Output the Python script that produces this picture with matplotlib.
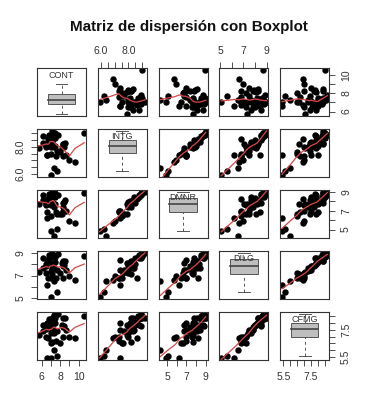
import numpy as np
import matplotlib.pyplot as plt

plt.rcParams['font.family'] = ['Liberation Sans', 'DejaVu Sans']

# USJudgeRatings (first five columns), 43 judges
names = ["CONT", "INTG", "DMNR", "DILG", "CFMG"]
cont = [5.7, 6.8, 7.2, 6.8, 7.3, 6.2, 10.6, 7.0, 7.3, 8.2, 7.0, 6.5, 6.7, 7.0, 6.5,
        7.3, 8.0, 7.7, 8.3, 9.6, 7.1, 7.6, 6.6, 6.2, 7.5, 7.8, 7.1, 7.5, 7.5, 7.1,
        6.6, 8.4, 6.9, 7.3, 7.7, 8.5, 6.9, 6.5, 8.3, 8.3, 9.0, 7.1, 8.6]
intg = [7.9, 8.9, 8.1, 8.8, 6.4, 8.8, 9.0, 5.9, 8.9, 7.9, 8.0, 8.0, 8.6, 7.5, 8.1,
        8.0, 7.6, 7.7, 8.2, 6.9, 8.2, 7.3, 7.4, 8.3, 8.7, 8.9, 8.5, 9.0, 8.1, 9.2,
        7.4, 8.0, 8.5, 8.9, 6.2, 8.3, 8.3, 8.2, 7.3, 8.2, 7.0, 8.4, 7.4]
dmnr = [7.7, 8.8, 7.8, 8.5, 4.3, 8.7, 8.9, 4.9, 8.9, 6.7, 7.6, 7.6, 8.2, 6.4, 8.0,
        7.4, 6.6, 6.7, 7.4, 5.7, 7.7, 6.9, 6.2, 8.1, 8.5, 8.7, 8.3, 8.9, 7.7, 9.0,
        6.9, 7.9, 7.8, 8.8, 5.1, 8.1, 8.0, 7.7, 7.0, 7.8, 5.9, 8.4, 7.0]
dilg = [7.3, 8.5, 7.8, 8.8, 6.5, 8.5, 8.7, 5.1, 8.7, 8.1, 7.4, 7.2, 6.8, 6.8, 8.0,
        7.7, 7.2, 7.5, 7.8, 6.6, 7.1, 6.8, 6.2, 7.7, 8.6, 8.9, 8.0, 8.7, 8.2, 9.0,
        8.4, 7.9, 8.5, 8.7, 5.6, 8.3, 8.1, 7.8, 6.8, 8.3, 7.0, 7.7, 7.5]
cfmg = [7.1, 7.8, 7.5, 8.3, 6.0, 7.9, 8.5, 5.4, 8.6, 7.9, 7.3, 7.0, 6.9, 6.5, 7.9,
        7.3, 6.5, 7.4, 7.7, 6.9, 6.6, 6.7, 5.4, 7.4, 8.5, 8.7, 7.9, 8.4, 8.0, 8.4,
        8.0, 7.8, 8.1, 8.4, 5.6, 8.4, 7.9, 7.6, 7.0, 8.4, 7.0, 7.5, 7.5]

# axis ticks and the labels R kept (others dropped for overlap)
tick_vals = {
    "CONT": [6, 7, 8, 9, 10],
    "INTG": [6.0, 6.5, 7.0, 7.5, 8.0, 8.5, 9.0],
    "DMNR": [5, 6, 7, 8, 9],
    "DILG": [5, 6, 7, 8, 9],
    "CFMG": [5.5, 6.0, 6.5, 7.0, 7.5, 8.0, 8.5],
}
tick_text = {
    "CONT": ["6", "", "8", "", "10"],
    "INTG": ["6.0", "", "", "", "8.0", "", ""],
    "DMNR": ["5", "", "7", "", "9"],
    "DILG": ["5", "", "7", "", "9"],
    "CFMG": ["5.5", "", "", "", "7.5", "", ""],
}

data = [np.array(v, float) for v in (cont, intg, dmnr, dilg, cfmg)]


def lowess(x, y, f=0.5, iters=3):
    order = np.argsort(x)
    x, y = x[order], y[order]
    n = len(x)
    r = int(np.ceil(f * n))
    fit = np.zeros(n)
    rob = np.ones(n)
    for _ in range(iters + 1):
        for i in range(n):
            d = np.abs(x - x[i])
            h = max(np.sort(d)[r - 1], 1e-6)
            w = np.clip(d / h, 0, 1)
            w = (1 - w ** 3) ** 3 * rob
            sw = w.sum()
            xm = (w * x).sum() / sw
            ym = (w * y).sum() / sw
            sxx = (w * (x - xm) ** 2).sum()
            b = (w * (x - xm) * (y - ym)).sum() / sxx if sxx > 1e-12 else 0.0
            fit[i] = ym + b * (x[i] - xm)
        res = y - fit
        s = np.median(np.abs(res))
        if s <= 0:
            break
        u = np.clip(res / (6 * s), -1, 1)
        rob = (1 - u ** 2) ** 2
    return x, fit


def fivenum(v):
    v = np.sort(v)
    n = len(v)
    n4 = np.floor((n + 3) / 2) / 2
    d = np.array([1, n4, (n + 1) / 2, n + 1 - n4, n]) - 1
    return 0.5 * (v[np.floor(d).astype(int)] + v[np.ceil(d).astype(int)])


def lims(v):
    rg = v.max() - v.min()
    return v.min() - 0.04 * rg, v.max() + 0.04 * rg


W, H = 378, 400
fig = plt.figure(figsize=(W / 100, H / 100), dpi=100)
fig.suptitle("Matriz de dispersión con Boxplot", fontsize=10.9,
             fontweight="bold", y=1 - 27 / H, va="center", color="#111111")

left0, top0, pitch_x, pitch_y, pw, ph = 37, 68, 60.8, 61, 49, 48
k = len(names)
edge = "#333333"

for i in range(k):
    for j in range(k):
        x0 = left0 + j * pitch_x
        y0 = top0 + i * pitch_y
        ax = fig.add_axes([x0 / W, 1 - (y0 + ph) / H, pw / W, ph / H])
        ax.set_xlim(*lims(data[j]))
        ax.set_ylim(*lims(data[i]))
        for s in ax.spines.values():
            s.set_linewidth(0.8)
            s.set_color(edge)
        ax.set_xticks([])
        ax.set_yticks([])

        if i == j:
            v = data[i]
            q = fivenum(v)
            iqr = q[3] - q[1]
            lo = v[v >= q[1] - 1.5 * iqr].min()
            hi = v[v <= q[3] + 1.5 * iqr].max()
            xl, xr = ax.get_xlim()
            xc = (xl + xr) / 2
            bw = 0.56 * (xr - xl)
            ax.add_patch(plt.Rectangle((xc - bw / 2, q[1]), bw, iqr,
                                       facecolor="#bebebe", edgecolor="#555555", lw=0.7))
            ax.plot([xc - bw / 2, xc + bw / 2], [q[2], q[2]], color="#444444", lw=1.2)
            ax.plot([xc, xc], [q[3], hi], color="#555555", lw=0.7, ls=(0, (3, 3)))
            ax.plot([xc, xc], [lo, q[1]], color="#555555", lw=0.7, ls=(0, (3, 3)))
            cw = 0.12 * (xr - xl)
            ax.plot([xc - cw, xc + cw], [hi, hi], color="#555555", lw=0.7)
            ax.plot([xc - cw, xc + cw], [lo, lo], color="#555555", lw=0.7)
            ax.text(0.5, 0.84, names[i], transform=ax.transAxes, ha="center",
                    va="center", fontsize=6.5, color="#333333")
        else:
            ax.plot(data[j], data[i], "o", color="black", ms=4.6, mew=0)
            sx, sy = lowess(data[j], data[i])
            ax.plot(sx, sy, color="#d84848", lw=0.9)

        tp = dict(length=4.5, width=0.6, labelsize=7.5, pad=4, colors="#333333")
        if i == 0 and j % 2 == 1:
            ax.xaxis.set_ticks_position("top")
            ax.set_xticks(tick_vals[names[j]], tick_text[names[j]])
            ax.tick_params(axis="x", **tp)
        if i == k - 1 and j % 2 == 0:
            ax.set_xticks(tick_vals[names[j]], tick_text[names[j]])
            ax.tick_params(axis="x", **tp)
        if j == 0 and i % 2 == 1:
            ax.set_yticks(tick_vals[names[i]], tick_text[names[i]])
            ax.tick_params(axis="y", **tp)
            for t in ax.get_yticklabels():
                t.set_rotation(90)
                t.set_va("center")
        if j == k - 1 and i % 2 == 0:
            ax.yaxis.set_ticks_position("right")
            ax.set_yticks(tick_vals[names[i]], tick_text[names[i]])
            ax.tick_params(axis="y", **tp)
            for t in ax.get_yticklabels():
                t.set_rotation(90)
                t.set_va("center")

fig.savefig("out.png", dpi=100)
